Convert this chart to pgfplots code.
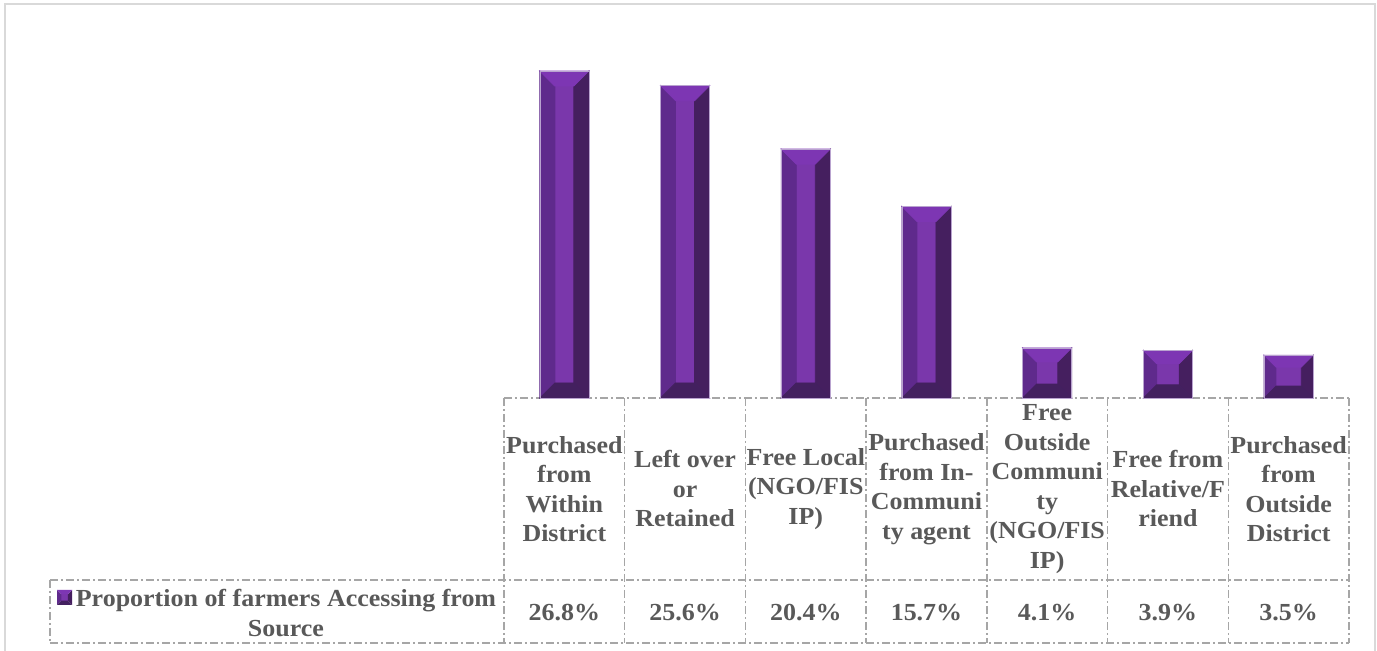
\documentclass[border=0pt]{standalone}
\usepackage{pgfplots}
\pgfplotsset{compat=1.18}
\usepackage{pgfplotstable}
\usepackage{fontspec}
\setmainfont{Liberation Serif}[FakeStretch=1.06]
\definecolor{barC}{HTML}{7A37AB}
\definecolor{barL}{HTML}{5F2A8C}
\definecolor{barR}{HTML}{451F5F}
\definecolor{barT}{HTML}{7D36B3}
\definecolor{barB}{HTML}{43205F}
\definecolor{barE}{HTML}{B9A3CF}
\definecolor{txt}{HTML}{595959}
\definecolor{gridc}{HTML}{A6A6A6}
\definecolor{frame}{HTML}{D9D9D9}
\pgfplotstableread{
x v
0 26.8
1 25.6
2 20.4
3 15.7
4 4.1
5 3.9
6 3.5
}\data
\newcommand{\tfont}{\fontsize{12.25pt}{14.75pt}\selectfont\bfseries}
\tikzset{gridl/.style={draw=gridc, line width=0.75pt, dash pattern=on 4pt off 1.5pt on 1pt off 1.5pt}}
\begin{document}
\begin{tikzpicture}
\begin{axis}[
  scale only axis, width=422.5pt, height=183pt,
  xmin=-0.5, xmax=6.5, ymin=0, ymax=30,
  clip=false,
  axis line style={draw=none},
  ytick=\empty,
  xtick={0,...,6},
  major tick length=0pt,
  /pgf/number format/assume math mode=true,
  xticklabels={{Purchased\\from\\Within\\District},{Left over\\or\\Retained},{Free Local\\(NGO/FIS\\IP)},{Purchased\\from In-\\Communi\\ty agent},{Free\\Outside\\Communi\\ty\\(NGO/FIS\\IP)},{Free from\\Relative/F\\riend},{Purchased\\from\\Outside\\District}},
  xticklabel style={anchor=center, yshift=-45.5pt, align=center, inner sep=0pt, font=\tfont, text=txt},
]
% bevelled bars
\addplot[scatter, only marks, mark=text, text mark={},
  visualization depends on={rawy \as \rv},
  scatter/@pre marker code/.code={%
    \pgfkeys{/pgf/fpu=false}%
    \pgfmathsetmacro\H{6.1*\rv}%
    \pgfmathsetmacro\B{min(7.5,\H/3.6)}%
    \pgfmathsetmacro\W{12.25}%
    \pgfmathsetmacro\I{\W-\B}%
    \pgfmathsetmacro\HB{\H-\B}%
    \fill[barC] (-\I pt,-\B pt) rectangle (\I pt,-\HB pt);
    \fill[barL] (-\W pt,0pt) -- (-\W pt,-\H pt) -- (-\I pt,-\HB pt) -- (-\I pt,-\B pt) -- cycle;
    \fill[barR] (\W pt,0pt) -- (\W pt,-\H pt) -- (\I pt,-\HB pt) -- (\I pt,-\B pt) -- cycle;
    \fill[barT] (-\W pt,0pt) -- (\W pt,0pt) -- (\I pt,-\B pt) -- (-\I pt,-\B pt) -- cycle;
    \fill[barB] (-\W pt,-\H pt) -- (\W pt,-\H pt) -- (\I pt,-\HB pt) -- (-\I pt,-\HB pt) -- cycle;
    \draw[barE, line width=0.35pt] (-\W pt,0pt) rectangle (\W pt,-\H pt);
  },
  scatter/@post marker code/.code={},
] table[x=x, y=v]{\data};
% values row of the data table
\addplot[draw=none, mark=none, point meta=\thisrow{v},
  nodes near coords={\pgfmathprintnumber[fixed, fixed zerofill, precision=1]{\pgfplotspointmeta}\%},
  every node near coord/.append style={anchor=center, font=\tfont, text=txt, inner sep=0pt},
] table[x=x, y expr=-17.6]{\data};
% data table grid
\draw[gridl] (axis cs:-0.5,0) -- (axis cs:6.5,0);
\draw[gridl] (axis cs:-4.261,-14.918) -- (axis cs:6.5,-14.918);
\draw[gridl] (axis cs:-4.261,-20.082) -- (axis cs:6.5,-20.082);
\draw[gridl] (axis cs:-4.261,-14.918) -- (axis cs:-4.261,-20.082);
\pgfplotsinvokeforeach{-0.5,0.5,1.5,2.5,3.5,4.5,5.5,6.5}{\draw[gridl] (axis cs:#1,0) -- (axis cs:#1,-20.082);}
% legend cell
\node[align=center, font=\tfont, text=txt, inner sep=0pt] at (axis cs:-2.306,-17.62) {Proportion of farmers Accessing from\\Source};
\begin{scope}[shift={(axis cs:-4.14,-16.35)}]
  \fill[barC] (-1.6pt,-1.6pt) rectangle (1.6pt,1.6pt);
  \fill[barL] (-3.75pt,3.75pt) -- (-3.75pt,-3.75pt) -- (-1.6pt,-1.6pt) -- (-1.6pt,1.6pt) -- cycle;
  \fill[barR] (3.75pt,3.75pt) -- (3.75pt,-3.75pt) -- (1.6pt,-1.6pt) -- (1.6pt,1.6pt) -- cycle;
  \fill[barT] (-3.75pt,3.75pt) -- (3.75pt,3.75pt) -- (1.6pt,1.6pt) -- (-1.6pt,1.6pt) -- cycle;
  \fill[barB] (-3.75pt,-3.75pt) -- (3.75pt,-3.75pt) -- (1.6pt,-1.6pt) -- (-1.6pt,-1.6pt) -- cycle;
\end{scope}
% chart frame
\draw[frame, line width=1pt] (axis cs:-4.634,-24) -- (axis cs:-4.634,32.295) -- (axis cs:6.7155,32.295) -- (axis cs:6.7155,-24);
\coordinate (bbA) at (axis cs:-4.6753,-20.738);
\coordinate (bbB) at (axis cs:6.7322,32.623);
\end{axis}
\pgfresetboundingbox
\useasboundingbox (bbA) rectangle (bbB);
\end{tikzpicture}
\end{document}
